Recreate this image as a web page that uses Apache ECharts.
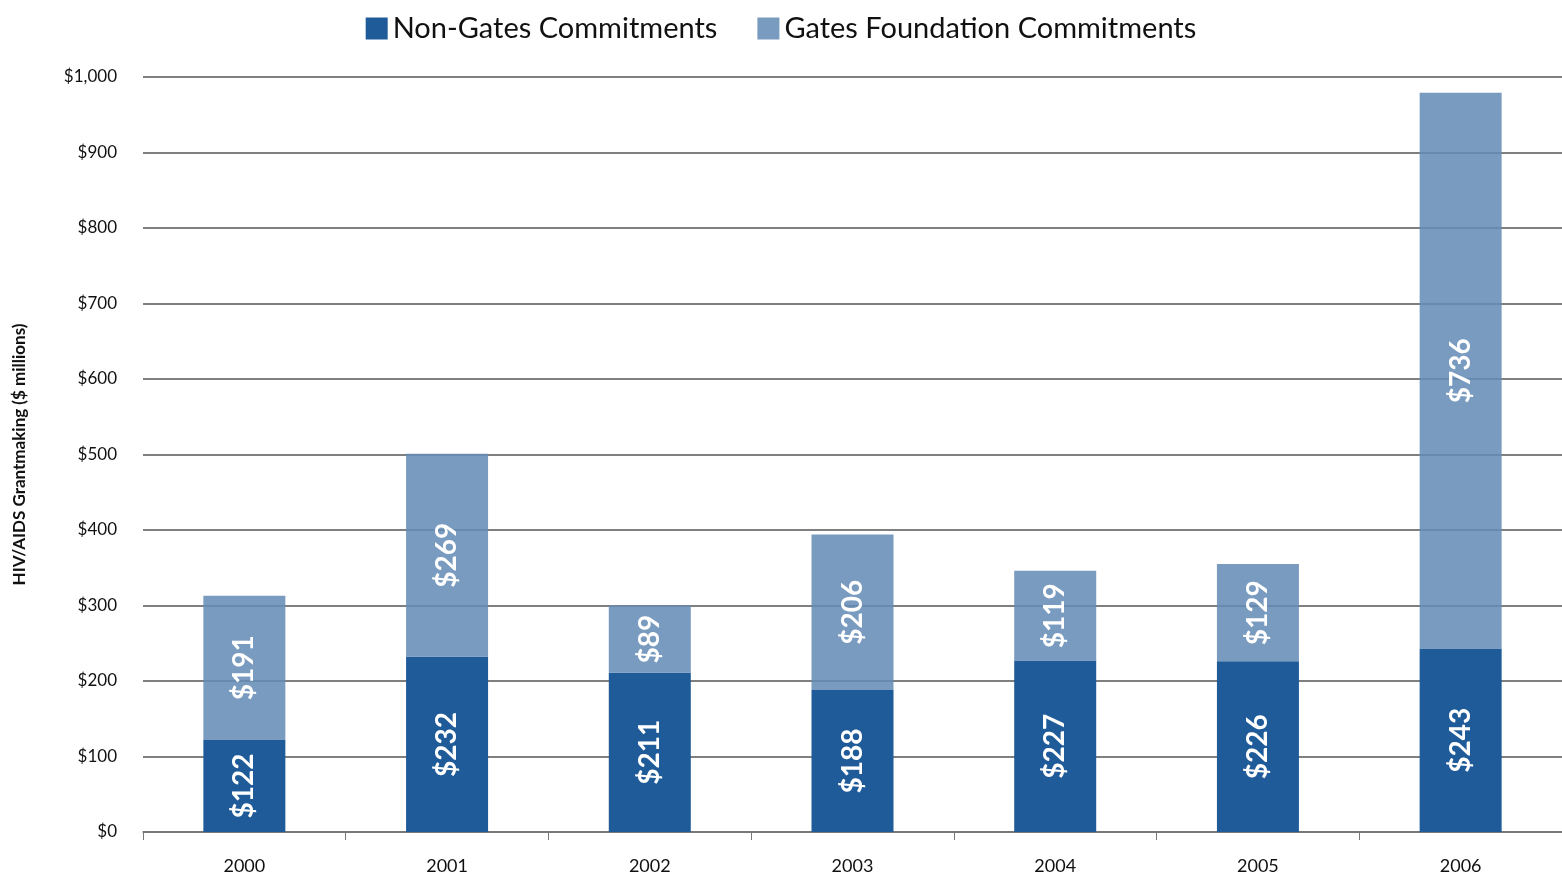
<!DOCTYPE html>
<html><head><meta charset="utf-8">
<script src="https://cdn.jsdelivr.net/npm/echarts@6/dist/echarts.min.js"></script>
<style>html,body{margin:0;padding:0;background:#fff}#c{width:1562px;height:876px}</style>
</head><body><div id="c"></div>
<script>
const years = ['2000','2001','2002','2003','2004','2005','2006'];
const nonGates = [122,232,211,188,227,226,243];
const gates = [191,269,89,206,119,129,736];
const seriesNames = ['Non-Gates Commitments','Gates Foundation Commitments'];
const yTicks = [0,100,200,300,400,500,600,700,800,900,1000];

const chart = echarts.init(document.getElementById('c'));
const fam = 'Lato, "Open Sans", sans-serif';
const lbl = {show:true, position:'inside', rotate:90, color:'#fff', fontSize:28, fontWeight:'bold', fontFamily:fam,
  formatter:p=>'$'+p.value};
chart.setOption({
  animation:false,
  legend:{top:9, left:'center', icon:'rect', itemWidth:22, itemHeight:22, itemGap:40,
    textStyle:{fontSize:29, fontFamily:fam, color:'#111'}, data:seriesNames},
  grid:{left:143, right:0, top:77, bottom:44},
  xAxis:{type:'category', data:years,
    axisLine:{lineStyle:{color:'#777', width:1.5}},
    axisTick:{show:true, length:8, lineStyle:{color:'#777'}},
    axisLabel:{fontSize:18, fontFamily:fam, color:'#111', margin:25}},
  yAxis:{type:'value', min:0, max:1000, interval:100,
    name:'HIV/AIDS Grantmaking ($ millions)', nameLocation:'middle', nameGap:115,
    nameTextStyle:{fontSize:17, fontWeight:'bold', fontFamily:fam, color:'#111'},
    axisLine:{show:false}, axisTick:{show:false},
    splitLine:{lineStyle:{color:'#555', width:1.5}},
    axisLabel:{fontSize:17, fontFamily:fam, color:'#111', margin:26,
      formatter:v=>'$'+v.toLocaleString('en-US')}},
  series:[
    {name:seriesNames[0], type:'bar', stack:'a', data:nonGates, barWidth:82,
      itemStyle:{color:'#1f5b98'}, label:lbl, z:3},
    {name:seriesNames[1], type:'bar', stack:'a', data:gates, barWidth:82,
      itemStyle:{color:'rgba(100,140,181,0.87)'}, label:lbl, z:3}
  ]
});
</script></body></html>
